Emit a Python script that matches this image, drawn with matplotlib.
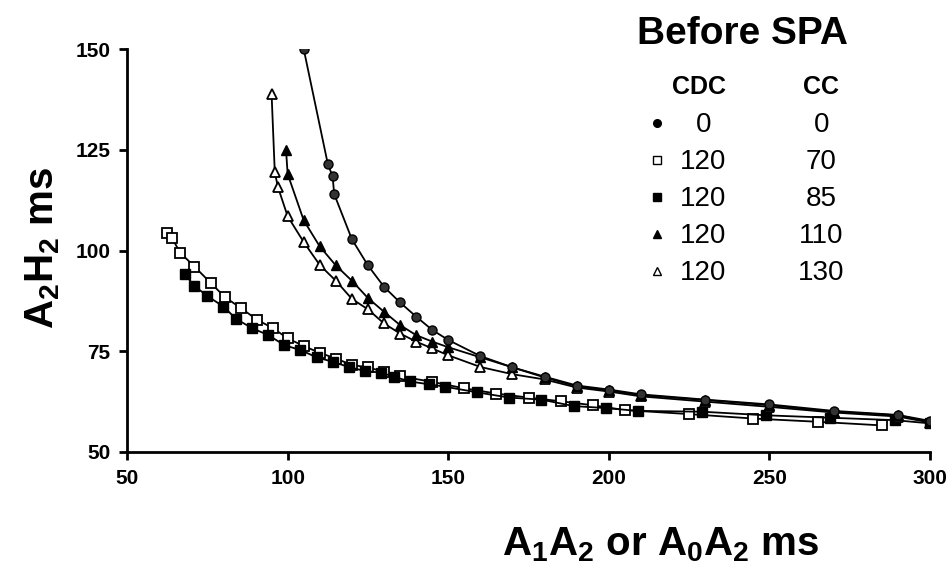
import matplotlib
matplotlib.use('Agg')
import matplotlib.pyplot as plt
from matplotlib.lines import Line2D

plt.rcParams['font.family'] = ['Liberation Sans', 'DejaVu Sans']
plt.rcParams['mathtext.default'] = 'regular'

# CDC 0 / CC 0  (filled circles)
circ_x = [105, 112.5, 114, 114.5, 120, 125, 130, 135, 140, 145, 150, 160, 170, 180, 190, 200, 210, 230, 250, 270, 290, 300]
circ_y = [150, 121.5, 118.4, 114, 102.8, 96.3, 91, 87.1, 83.6, 80.3, 77.8, 73.8, 71, 68.7, 66.5, 65.5, 64.3, 63, 61.8, 60.2, 59.2, 57.7]

# CDC 120 / CC 70  (open squares)
osq_x = [62.5, 64, 66.5, 71, 76, 80.5, 85.5, 90.5, 95.5, 100, 105, 110, 115, 120, 125, 130, 135, 145, 155, 165, 175, 185, 195, 205, 225, 245, 265, 285]
osq_y = [104.3, 103.1, 99.5, 96, 92, 88.4, 85.7, 82.8, 80.7, 78.2, 76.3, 74.6, 73.2, 71.6, 71, 69.9, 68.8, 67.4, 65.8, 64.5, 63.5, 62.6, 61.6, 60.4, 59.4, 58.3, 57.5, 56.6]

# CDC 120 / CC 85  (filled squares)
fsq_x = [68, 71, 75, 80, 84, 89, 94, 99, 104, 109, 114, 119, 124, 129, 133, 138, 144, 149, 159, 169, 179, 189, 199, 209, 229, 249, 269, 289, 300]
fsq_y = [94.1, 91.2, 88.7, 86.1, 83, 80.7, 79, 76.5, 75.3, 73.5, 72.4, 71.1, 70.1, 69.7, 68.7, 67.5, 66.8, 66.2, 64.8, 63.5, 63, 61.4, 60.9, 60.2, 60, 59.1, 58.5, 57.9, 57.1]

# CDC 120 / CC 110  (filled triangles)
ftri_x = [99.5, 100, 105, 110, 115, 120, 125, 130, 135, 140, 145, 150, 160, 170, 180, 190, 200, 210, 230, 250, 270, 290, 300]
ftri_y = [125, 119, 107.5, 101, 96.3, 92.5, 88.2, 84.8, 81.5, 79, 77.4, 76, 73.5, 71, 68.5, 66.3, 65.3, 64.1, 62.9, 61.6, 60, 59.1, 57.5]

# CDC 120 / CC 130  (open triangles)
otri_x = [95, 96, 97, 100, 105, 110, 115, 120, 125, 130, 135, 140, 145, 150, 160, 170, 180, 190, 200, 210, 230, 250, 270, 290, 300]
otri_y = [138.9, 119.4, 115.7, 108.5, 102.1, 96.4, 92.5, 88, 85.4, 81.9, 79.4, 77.4, 75.7, 74, 71.1, 69.3, 68, 66, 65, 63.8, 62.5, 61.2, 59.8, 58.8, 57.3]

cdc = ['0', '120', '120', '120', '120']
cc = ['0', '70', '85', '110', '130']

fig = plt.figure(figsize=(9.53, 5.72), dpi=100)
ax = fig.add_axes([0.1333, 0.2098, 0.8426, 0.7045])

lw = 1.3
ax.plot(osq_x, osq_y, color='k', lw=lw, marker='s', ms=6.5, mfc='white', mec='k', mew=1.3)
ax.plot(fsq_x, fsq_y, color='k', lw=lw, marker='s', ms=6.5, mfc='k', mec='k')
ax.plot(otri_x, otri_y, color='k', lw=lw, marker='^', ms=7.5, mfc='white', mec='k', mew=1.3)
ax.plot(ftri_x, ftri_y, color='k', lw=lw, marker='^', ms=7.5, mfc='k', mec='k')
ax.plot(circ_x, circ_y, color='k', lw=lw, marker='o', ms=6.5, mfc='#333333', mec='k')

ax.set_xlim(50, 300)
ax.set_ylim(50, 150)
ax.set_xticks([50, 100, 150, 200, 250, 300])
ax.set_yticks([50, 75, 100, 125, 150])
ax.spines['top'].set_visible(False)
ax.spines['right'].set_visible(False)
ax.spines['left'].set_linewidth(2)
ax.spines['bottom'].set_linewidth(2)
ax.tick_params(direction='out', length=6, width=2, labelsize=15, pad=6)
for lab in ax.get_xticklabels() + ax.get_yticklabels():
    lab.set_fontweight('bold')

fig.text(0.045, 0.567, 'A$_2$H$_2$ ms', rotation=90, fontsize=29, fontweight='bold',
         ha='center', va='center')
fig.text(0.693, 0.047, 'A$_1$A$_2$ or A$_0$A$_2$ ms', fontsize=29, fontweight='bold',
         ha='center', va='center')

# legend block
fig.text(0.779, 0.94, 'Before SPA', fontsize=28, fontweight='bold', ha='center', va='center')
fig.text(0.733, 0.848, 'CDC', fontsize=18, fontweight='bold', ha='center', va='center')
fig.text(0.862, 0.848, 'CC', fontsize=18, fontweight='bold', ha='center', va='center')
styles = [dict(marker='o', mfc='k'), dict(marker='s', mfc='white'), dict(marker='s', mfc='k'),
          dict(marker='^', mfc='k'), dict(marker='^', mfc='white')]
for i in range(len(cdc)):
    yy = 0.782 - i * 0.0647
    fig.add_artist(Line2D([0.689], [yy + 0.003], transform=fig.transFigure, linestyle='none',
                          mec='k', ms=5.5, mew=1, **styles[i]))
    fig.text(0.738, yy, cdc[i], fontsize=20, ha='center', va='center')
    fig.text(0.862, yy, cc[i], fontsize=20, ha='center', va='center')

fig.savefig('out.png', dpi=100)
